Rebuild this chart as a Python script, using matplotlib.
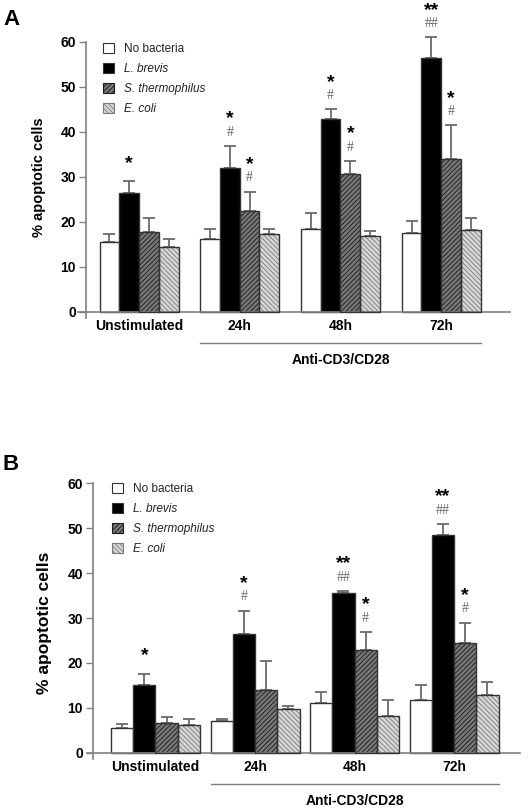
import matplotlib
matplotlib.use("Agg")
import matplotlib.pyplot as plt
import matplotlib.patches as mpatches
import matplotlib.transforms as mtransforms
import numpy as np

plt.rcParams["font.family"] = ["Liberation Sans", "DejaVu Sans"]
plt.rcParams["hatch.linewidth"] = 0.6

groups = ["Unstimulated", "24h", "48h", "72h"]
series = ["No bacteria", "L. brevis", "S. thermophilus", "E. coli"]

# panel A: mean and upper error (SD) per group
a_none = [15.6, 16.2, 18.3, 17.6]
a_none_err = [1.6, 2.2, 3.7, 2.5]
a_brevis = [26.3, 32.0, 42.8, 56.4]
a_brevis_err = [2.7, 4.8, 2.2, 4.6]
a_thermo = [17.8, 22.3, 30.5, 33.9]
a_thermo_err = [3.0, 4.4, 3.0, 7.5]
a_coli = [14.4, 17.2, 16.8, 18.1]
a_coli_err = [1.8, 1.2, 1.1, 2.7]

a_brevis_star = ["*", "*", "*", "**"]
a_brevis_hash = ["", "#", "#", "##"]
a_thermo_star = ["", "*", "*", "*"]
a_thermo_hash = ["", "#", "#", "#"]

# panel B
b_none = [5.5, 7.0, 11.0, 11.7]
b_none_err = [1.0, 0.6, 2.5, 3.3]
b_brevis = [15.2, 26.4, 35.5, 48.5]
b_brevis_err = [2.4, 5.2, 0.5, 2.4]
b_thermo = [6.7, 13.9, 22.9, 24.4]
b_thermo_err = [1.2, 6.5, 4.0, 4.6]
b_coli = [6.1, 9.8, 8.2, 12.9]
b_coli_err = [1.5, 0.6, 3.5, 2.8]

b_brevis_star = ["*", "*", "**", "**"]
b_brevis_hash = ["", "#", "##", "##"]
b_thermo_star = ["", "", "*", "*"]
b_thermo_hash = ["", "", "#", "#"]

# face, hatch, hatch colour
styles = [
    ("white", "", "#333333"),
    ("black", "", "#000000"),
    ("#777777", "///////", "#1a1a1a"),
    ("#d6d6d6", "\\\\\\\\\\\\\\", "#7a7a7a"),
]
edge = "#333333"
grey = "#808080"


def draw_panel(ax, means, errs, stars, hashes, bw, xlim, spine_x, legend_xy,
               label_xy, label_size):
    x = np.arange(len(groups))

    # spines first: moving them resets the ticks
    for side in ("top", "right"):
        ax.spines[side].set_visible(False)
    ax.spines["bottom"].set_position(("data", 0))
    ax.spines["left"].set_position(("axes", spine_x))
    for side in ("bottom", "left"):
        ax.spines[side].set_color(grey)
        ax.spines[side].set_linewidth(1.2)

    for k, (m, e) in enumerate(zip(means, errs)):
        face, hatch, hcol = styles[k]
        xs = x + (k - 1.5) * bw
        ax.errorbar(xs, m, yerr=[np.zeros(len(m)), e], fmt="none", ecolor="#6a6a6a",
                    elinewidth=1.3, capsize=4, capthick=1.3, zorder=1, clip_on=False)
        if hatch:
            ax.bar(xs, m, bw, color=face, hatch=hatch, edgecolor=hcol, linewidth=0, zorder=2)
            ax.bar(xs, m, bw, fill=False, edgecolor=edge, linewidth=1.0, zorder=3)
        else:
            ax.bar(xs, m, bw, color=face, edgecolor=edge, linewidth=1.0, zorder=2)

    # significance marks above L. brevis (k=1) and S. thermophilus (k=2)
    for k in (1, 2):
        tops = np.array(means[k]) + np.array(errs[k])
        for i in range(len(groups)):
            xi = x[i] + (k - 1.5) * bw
            s, h = stars[k][i], hashes[k][i]
            if h:
                ax.annotate(h, (xi, tops[i]), xytext=(0, 10), textcoords="offset points",
                            ha="center", va="center", fontsize=10, color="#666666",
                            family=["Liberation Serif"], annotation_clip=False)
            if s:
                off = 19.5 if h else 13
                ax.annotate(s, (xi, tops[i]), xytext=(0, off), textcoords="offset points",
                            ha="center", va="center", fontsize=14, fontweight="bold",
                            color="black", annotation_clip=False)

    ax.set_xlim(*xlim)
    ax.set_ylim(-1.3, 60)
    ax.set_yticks(range(0, 61, 10))
    ax.set_yticklabels([str(v) for v in range(0, 61, 10)], fontweight="bold", fontsize=10)
    ax.set_xticks(x)
    ax.set_xticklabels(groups, fontweight="bold", fontsize=10)
    ax.tick_params(axis="x", length=0, pad=5)
    ax.tick_params(axis="y", length=5, width=1, color=grey, pad=2)

    ax.set_ylabel("% apoptotic cells", fontweight="bold", fontsize=label_size)
    ax.yaxis.set_label_coords(*label_xy)

    trans = mtransforms.blended_transform_factory(ax.transData, ax.transAxes)
    ax.plot([x[1] - 2 * bw, x[3] + 2 * bw], [-0.091, -0.091], transform=trans,
            color=grey, lw=1, clip_on=False)
    ax.text((x[1] + x[3]) / 2, -0.155, "Anti-CD3/CD28", transform=trans, ha="center",
            va="center", fontweight="bold", fontsize=10)

    handles = [mpatches.Patch(facecolor=f, hatch=h, edgecolor=(c if h else edge), linewidth=0.8)
               for f, h, c in styles]
    leg = ax.legend(handles, series, loc="upper left", bbox_to_anchor=legend_xy,
                    bbox_transform=ax.figure.transFigure, frameon=False, fontsize=8.5,
                    handlelength=0.95, handleheight=0.95, handletextpad=0.85,
                    labelspacing=0.66, borderpad=0, borderaxespad=0)
    for t in leg.get_texts()[1:]:
        t.set_fontstyle("italic")
    for t in leg.get_texts():
        t.set_color("#222222")


fig = plt.figure(figsize=(5.3, 8.11), dpi=100)
W, H = 530, 811

ax_a = fig.add_axes([0.1472, 0.6084, 0.8151, 0.3402])
draw_panel(ax_a,
           [a_none, a_brevis, a_thermo, a_coli],
           [a_none_err, a_brevis_err, a_thermo_err, a_coli_err],
           [None, a_brevis_star, a_thermo_star, None],
           [None, a_brevis_hash, a_thermo_hash, None],
           bw=0.196, xlim=(-0.606, 3.684), spine_x=0.0174,
           legend_xy=(103 / W, 1 - 43 / H), label_xy=(-0.074, 0.51), label_size=10.5)

ax_b = fig.add_axes([0.1642, 0.0645, 0.817, 0.3396])
draw_panel(ax_b,
           [b_none, b_brevis, b_thermo, b_coli],
           [b_none_err, b_brevis_err, b_thermo_err, b_coli_err],
           [None, b_brevis_star, b_thermo_star, None],
           [None, b_brevis_hash, b_thermo_hash, None],
           bw=0.2236, xlim=(-0.688, 3.663), spine_x=0.0127,
           legend_xy=(112 / W, 1 - 483 / H), label_xy=(-0.082, 0.494), label_size=12.5)

fig.text(3 / W, 1 - 25 / H, "A", fontsize=16, fontweight="bold", va="baseline")
fig.text(3 / W, 1 - 470 / H, "B", fontsize=16, fontweight="bold", va="baseline")

fig.savefig("out.png", dpi=100)
